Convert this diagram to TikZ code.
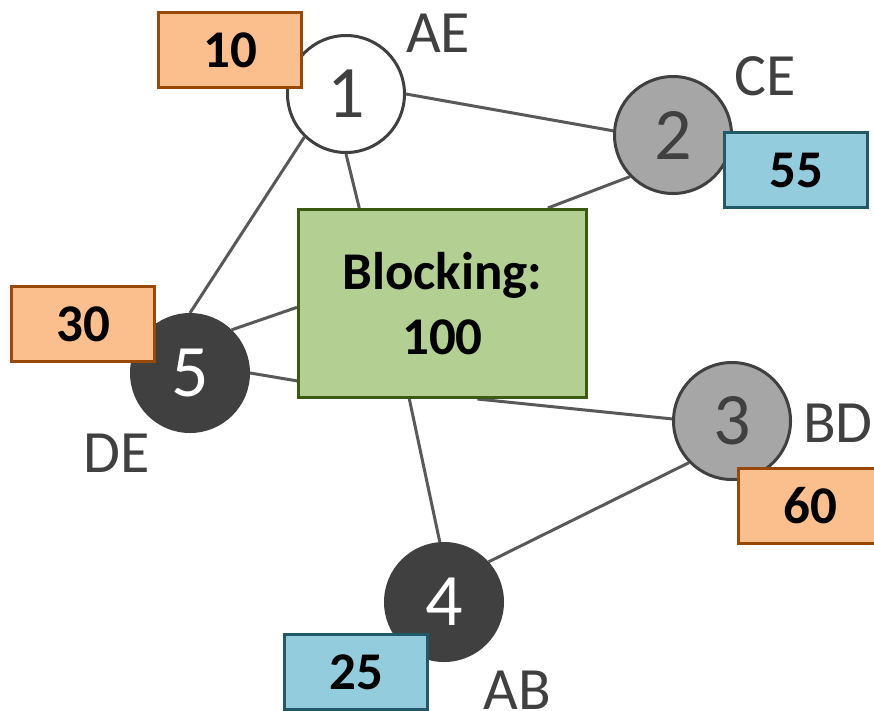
\documentclass[tikz,border=0pt]{standalone}
\usepackage{fontspec}
\setmainfont{Carlito}
\usetikzlibrary{calc,backgrounds}
\definecolor{darkc}{HTML}{404040}
\definecolor{grayc}{HTML}{A6A6A6}
\definecolor{edgec}{HTML}{595959}
\definecolor{orfill}{HTML}{FBBF8D}
\definecolor{ordraw}{HTML}{984807}
\definecolor{blfill}{HTML}{93CDDD}
\definecolor{bldraw}{HTML}{215968}
\definecolor{grfill}{HTML}{B3CF91}
\definecolor{grdraw}{HTML}{3B5A12}
\tikzset{
  x=1pt,y=1pt,
  vertex/.style={circle,draw=darkc,line width=3pt,minimum size=117pt,inner sep=0pt,
    font=\fontsize{74}{74}\selectfont},
  whitev/.style={vertex,fill=white,text=darkc},
  grayv/.style={vertex,fill=grayc,text=darkc},
  darkv/.style={vertex,fill=darkc,text=white},
  valbox/.style={rectangle,line width=2.5pt,minimum width=143pt,minimum height=75pt,inner sep=0pt,
    font=\fontsize{53}{53}\selectfont\bfseries,text=black},
  orbox/.style={valbox,fill=orfill,draw=ordraw},
  blbox/.style={valbox,fill=blfill,draw=bldraw},
  blockbox/.style={rectangle,fill=grfill,draw=grdraw,line width=3pt,minimum width=288pt,minimum height=188pt,
    inner sep=0pt,align=center,font=\fontsize{53}{65}\selectfont\bfseries},
  lbl/.style={inner sep=0pt,text=darkc,font=\fontsize{60}{60}\selectfont},
  edge/.style={draw=edgec,line width=3pt},
}
\begin{document}
\begin{tikzpicture}
\useasboundingbox (0,0) rectangle (874,-710);
\clip (0,0) rectangle (874,-710);
% nodes
\node[whitev] (c1) at (346,-94) {1};
\node[grayv] (c2) at (673,-135) {2};
\node[grayv] (c3) at (732,-421) {3};
\node[darkv] (c4) at (444,-602) {4};
\node[darkv] (c5) at (190,-373) {5};
\node[blockbox] (g) at (442.5,-303.5) {Blocking:\\100};
% edges
\begin{pgfonlayer}{background}
\fill[white] (0,0) rectangle (874,-710);
\path[edge] (c1.0) -- (c2.176);
\path[edge] (c1.226) -- (c5.90);
\path[edge] (c1.270) -- ($(g.north west)!0.214!(g.north east)$);
\path[edge] (c2.224) -- ($(g.north west)!0.862!(g.north east)$);
\path[edge] (c5.46) -- ($(g.north west)!0.52!(g.south west)$);
\path[edge] (c5.0) -- ($(g.north west)!0.905!(g.south west)$);
\path[edge] ($(g.south west)!0.62!(g.south east)$) -- (c3.178);
\path[edge] ($(g.south west)!0.386!(g.south east)$) -- (c4.94);
\path[edge] (c3.224) -- (c4.42);
\end{pgfonlayer}
% value boxes
\node[orbox] (b10) at (230,-50) {10};
\node[blbox] (b55) at (796,-170) {55};
\node[orbox] (b30) at (83,-324) {30};
\node[blbox] (b25) at (356,-672) {25};
\node[orbox] (b60) at (810,-506) {60};
% labels
\node[lbl] (lAE) at (438,-33) {AE};
\node[lbl] (lCE) at (765,-76) {CE};
\node[lbl] (lBD) at (838,-423) {BD};
\node[lbl] (lDE) at (117,-453) {DE};
\node[lbl] (lAB) at (517,-690) {AB};
\end{tikzpicture}
\end{document}
